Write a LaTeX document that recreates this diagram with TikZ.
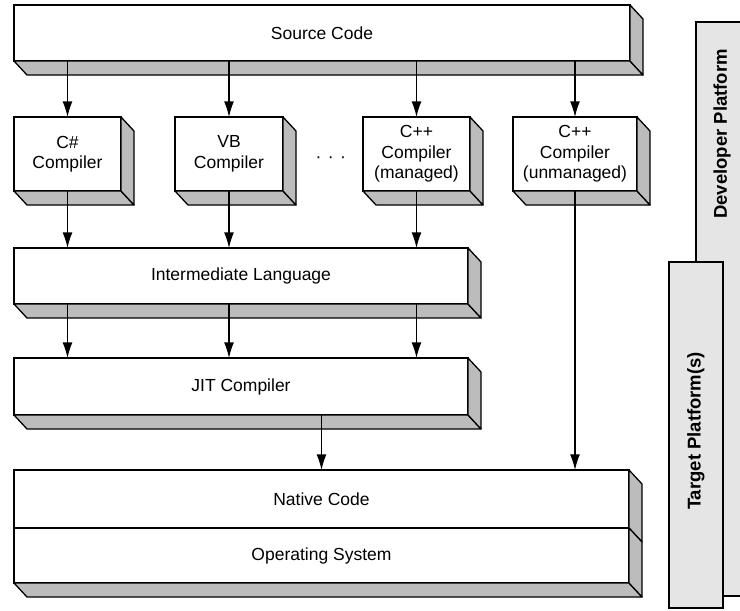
\documentclass[tikz,border=0pt]{standalone}
\usepackage{fontspec}
\setmainfont{Liberation Sans}
\usepackage{tikz}
\usetikzlibrary{positioning,arrows.meta,calc}
\definecolor{sidegray}{RGB}{188,188,188}
\definecolor{platgray}{RGB}{229,229,229}

\begin{document}
\begin{tikzpicture}[
  x=1pt, y=1pt,
  line width=1.3pt,
  font=\fontsize{17.5}{20.5}\selectfont,
  layer/.style={
    draw, fill=white, inner sep=0pt, outer sep=0pt,
    minimum height=56pt, align=center
  },
  unit/.style={layer, minimum height=74pt},
  side/.style={draw, fill=sidegray, line join=round},
  platform/.style={draw, fill=platgray, inner sep=0pt, outer sep=0pt, anchor=north west},
  platlabel/.style={rotate=90, inner sep=0pt, font=\bfseries\fontsize{18.5}{22}\selectfont}
]

\useasboundingbox (0,0) rectangle (740,-611);

% platform bars
\node (dev) [platform, minimum width=60pt, minimum height=574pt] at (696,-22) {};
\node (target) [platform, minimum width=54pt, minimum height=346pt] at (669,-262) {};
\node (devtext) [platlabel] at ($(dev.north west)+(26,-112)$) {Developer Platform};
\node (targettext) [platlabel] at ($(target.north)+(0,-169)$) {Target Platform(s)};

% layers
\node (src) [layer, minimum width=616pt, anchor=north west] at (14,-5) {Source Code};

\node (cs) [unit, minimum width=107pt, below right=56pt and 0pt of src.south west] {C\#\\Compiler};
\node (vb) [unit, minimum width=108pt, right=54pt of cs] {VB\\Compiler};
\node (cpm) [unit, minimum width=107pt, right=80pt of vb] {C++\\Compiler\\(managed)};
\node (cpu) [unit, minimum width=124pt, right=43pt of cpm] {C++\\Compiler\\(unmanaged)};
\node (more) [right=32pt of vb, inner sep=0pt, yshift=-6pt] {·\hspace{6.4pt}·\hspace{6.4pt}·};

\node (il) [layer, minimum width=454pt, below right=57pt and 0pt of cs.south west] {Intermediate Language};
\node (jit) [layer, minimum width=454pt, minimum height=57pt, below right=54pt and 0pt of il.south west] {JIT Compiler};

\node (native) [layer, minimum width=615pt, minimum height=58pt, below right=55pt and 0pt of jit.south west] {Native Code};
\node (os) [layer, minimum width=615pt, minimum height=55pt, below=0pt of native] {Operating System};

% depth faces
\foreach \n in {src,cs,vb,cpm,cpu,il,jit,os}
  \draw[side] (\n.south west) -- ++(13,-14) -- ($(\n.south east)+(13,-14)$) -- (\n.south east) -- cycle;
\foreach \n in {src,cs,vb,cpm,cpu,il,jit,native,os}
  \draw[side] (\n.north east) -- ++(13,-14) -- ($(\n.south east)+(13,-14)$) -- (\n.south east) -- cycle;

\draw[-{Latex[length=5.5mm,width=3.5mm]}] (cs.north |- src.south) -- (cs.north);
\draw[-{Latex[length=5.5mm,width=3.5mm]}] (vb.north |- src.south) -- (vb.north);
\draw[-{Latex[length=5.5mm,width=3.5mm]}] (cpm.north |- src.south) -- (cpm.north);
\draw[-{Latex[length=5.5mm,width=3.5mm]}] (cpu.north |- src.south) -- (cpu.north);

\draw[-{Latex[length=5.5mm,width=3.5mm]}] (cs.south) -- (cs.south |- il.north);
\draw[-{Latex[length=5.5mm,width=3.5mm]}] (vb.south) -- (vb.south |- il.north);
\draw[-{Latex[length=5.5mm,width=3.5mm]}] (cpm.south) -- (cpm.south |- il.north);

\draw[-{Latex[length=5.5mm,width=3.5mm]}] (cs.south |- il.south) -- (cs.south |- jit.north);
\draw[-{Latex[length=5.5mm,width=3.5mm]}] (vb.south |- il.south) -- (vb.south |- jit.north);
\draw[-{Latex[length=5.5mm,width=3.5mm]}] (cpm.south |- il.south) -- (cpm.south |- jit.north);

\draw[-{Latex[length=5.5mm,width=3.5mm]}] (native.north |- jit.south) -- (native.north);
\draw[-{Latex[length=5.5mm,width=3.5mm]}] (cpu.south) -- (cpu.south |- native.north);

\end{tikzpicture}
\end{document}
